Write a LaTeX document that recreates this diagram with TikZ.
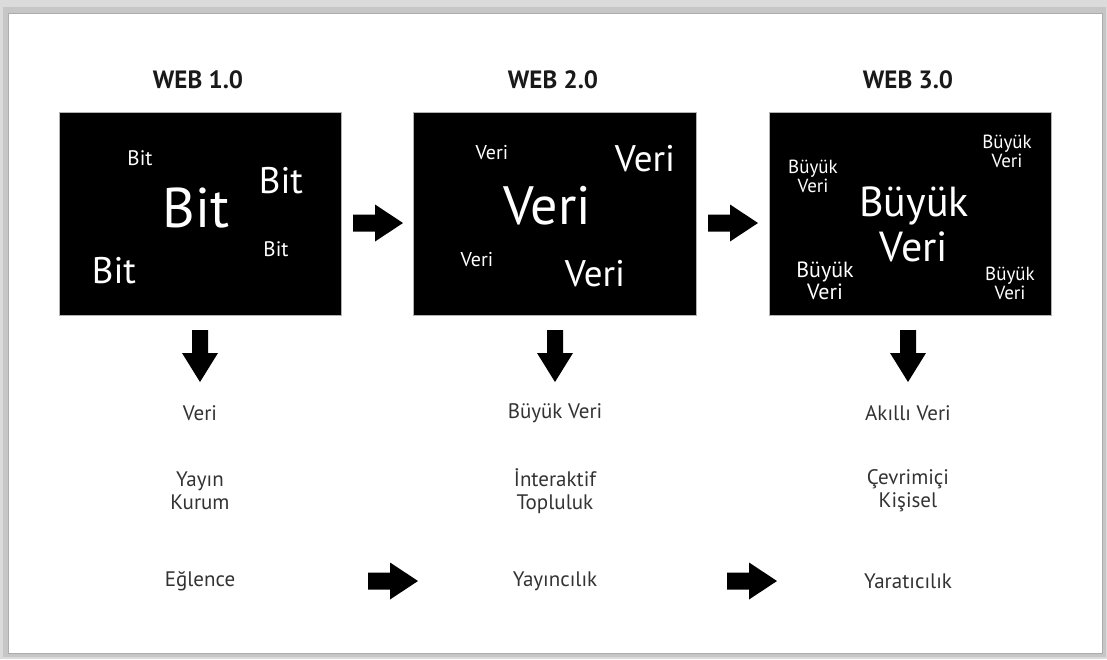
\documentclass[tikz,border=0pt]{standalone}
\usepackage{fontspec}
\setmainfont{PT Sans}
\newcommand{\fsz}[1]{\fontsize{#1}{#1}\selectfont}
\begin{document}
\begin{tikzpicture}[x=1pt,y=-1pt,
  panel/.style={fill=black, draw=gray!60, line width=0.6pt},
  boxtxt/.style={text=white, inner sep=0pt, align=center},
  ttl/.style={font=\bfseries\fontsize{25}{28}\selectfont, text=black!90, inner sep=0pt},
  lowtxt/.style={font=\fontsize{21}{23}\selectfont, text=black!80, inner sep=0pt, align=center},
  rarrow/.pic={\fill[black] (0,-8.5) -- (22,-8.5) -- (22,-18.5) -- (50,0) -- (22,18.5) -- (22,8.5) -- (0,8.5) -- cycle;},
  darrow/.pic={\fill[black] (-8,0) -- (8,0) -- (8,23) -- (18,23) -- (0,52) -- (-18,23) -- (-8,23) -- cycle;}
]
\useasboundingbox (0,0) rectangle (1107,659);
% frame
\fill[gray!28] (0,0) rectangle (1107,659);
\fill[gray!45] (3,7) rectangle (1106,657);
\draw[fill=white, draw=gray!65, line width=0.8pt] (8,13) rectangle (1102,653);

% titles
\node[ttl] (t1) at (198,80) {WEB 1.0};
\node[ttl] (t2) at (553,80) {WEB 2.0};
\node[ttl] (t3) at (908,80) {WEB 3.0};

% boxes
\draw[panel] (59,112) rectangle (341,315);
\draw[panel] (413,112) rectangle (696,315);
\draw[panel] (769,112) rectangle (1051,315);

% box 1 texts
\node[boxtxt, font=\fsz{21}] (a1) at (140,158) {Bit};
\node[boxtxt, font=\fsz{56}] (a2) at (196,208) {Bit};
\node[boxtxt, font=\fsz{37}] (a3) at (281,181) {Bit};
\node[boxtxt, font=\fsz{21}] (a4) at (276,249) {Bit};
\node[boxtxt, font=\fsz{37}] (a5) at (114,271) {Bit};

% box 2 texts
\node[boxtxt, font=\fsz{20}] (c1) at (492,153) {Veri};
\node[boxtxt, font=\fsz{37}] (c2) at (645,159) {Veri};
\node[boxtxt, font=\fsz{54}] (c3) at (547,206) {Veri};
\node[boxtxt, font=\fsz{20}] (c4) at (477,260) {Veri};
\node[boxtxt, font=\fsz{37}] (c5) at (595,274) {Veri};

% box 3 texts
\node[boxtxt, font=\fontsize{19}{19}\selectfont] (d1) at (813,176) {Büyük\\Veri};
\node[boxtxt, font=\fontsize{19}{19}\selectfont] (d2) at (1007,151) {Büyük\\Veri};
\node[boxtxt, font=\fontsize{42}{45}\selectfont] (d3) at (914,224) {Büyük\\Veri};
\node[boxtxt, font=\fontsize{22}{22}\selectfont] (d4) at (825,281) {Büyük\\Veri};
\node[boxtxt, font=\fontsize{19}{19}\selectfont] (d5) at (1010,283) {Büyük\\Veri};

% arrows between boxes
\pic at (353,223) {rarrow};
\pic at (708,223) {rarrow};
% down arrows
\pic at (200,330) {darrow};
\pic at (555,330) {darrow};
\pic at (908,330) {darrow};

% lower labels
\node[lowtxt] (l11) at (200,413) {Veri};
\node[lowtxt] (l12) at (200,491) {Yayın\\Kurum};
\node[lowtxt] (l13) at (200,581) {Eğlence};
\node[lowtxt] (l21) at (555,413) {Büyük Veri};
\node[lowtxt] (l22) at (555,491) {İnteraktif\\Topluluk};
\node[lowtxt] (l23) at (555,581) {Yayıncılık};
\node[lowtxt] (l31) at (908,413) {Akıllı Veri};
\node[lowtxt] (l32) at (908,491) {Çevrimiçi\\Kişisel};
\node[lowtxt] (l33) at (908,581) {Yaratıcılık};

% bottom arrows
\pic at (368,581) {rarrow};
\pic at (727,581) {rarrow};
\end{tikzpicture}
\end{document}
